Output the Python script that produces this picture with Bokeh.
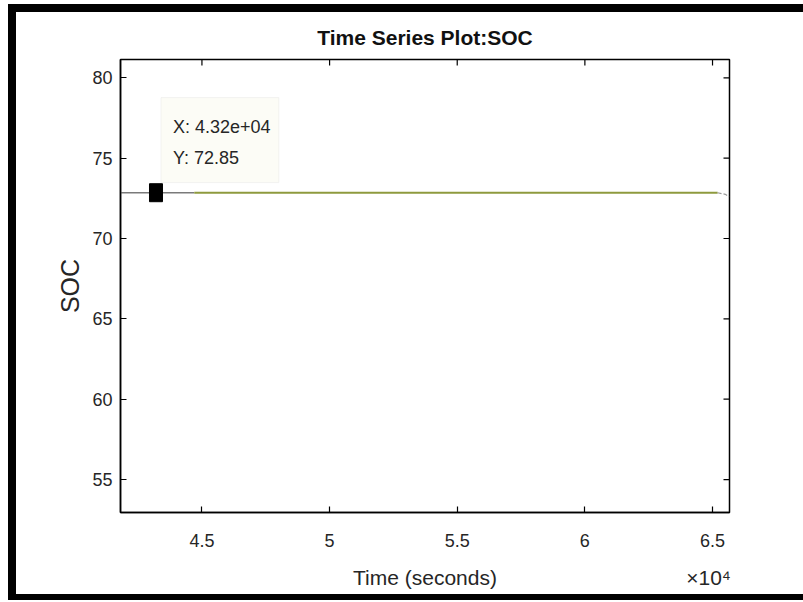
import math
from bokeh.plotting import figure
from bokeh.models import LinearAxis, FixedTicker, Range1d, BoxAnnotation, Label
from bokeh.embed import file_html
from bokeh.resources import INLINE

# ---- data ----
time_s = [41810, 43200, 44700, 65200, 65500, 65650]
soc = [72.85, 72.85, 72.85, 72.85, 72.75, 72.6]
tip_time = [43200]
tip_soc = [72.85]
x_ticks = [45000, 50000, 55000, 60000, 65000]
x_tick_labels = ["4.5", "5", "5.5", "6", "6.5"]
y_ticks = [55, 60, 65, 70, 75, 80]
x_lim = [41810, 65665]
y_lim = [52.95, 81.14]
x_title = "Time (seconds)"
x_exponent = "×10⁴"

FONT = "Liberation Sans"
TXT = "#262626"
W, H = 787, 582

p = figure(width=W, height=H, output_backend="svg", toolbar_location=None,
           x_range=Range1d(*x_lim), y_range=Range1d(*y_lim),
           min_border_left=104, min_border_right=74, min_border_top=47, min_border_bottom=82,
           title="Time Series Plot:SOC")
# thick black picture frame on the left, top and bottom edges (drawn as shadows,
# so they take no room from the canvas)
p.styles = {"margin-left": "16px", "margin-top": "12px", "vertical-align": "top",
            "box-shadow": "-8px -8px 0 0 black, 0 -8px 0 0 black, "
                          "-8px 6px 0 0 black, 0 6px 0 0 black"}
p.background_fill_color = "white"
p.border_fill_color = "white"
p.outline_line_color = "black"
p.outline_line_width = 1.5
p.xgrid.visible = False
p.ygrid.visible = False

p.title.align = "center"
p.title.text_font = FONT
p.title.text_font_size = "21px"
p.title.text_font_style = "bold"
p.title.text_color = "#111111"
p.title.standoff = 21

def style_axis(ax):
    ax.axis_line_color = "black"
    ax.axis_line_width = 1.5
    ax.major_tick_line_color = "black"
    ax.major_tick_line_width = 1.2
    ax.major_tick_in = 6
    ax.major_tick_out = 0
    ax.minor_tick_line_color = None
    ax.major_label_text_font = FONT
    ax.major_label_text_font_size = "18px"
    ax.major_label_text_color = TXT

xa = p.xaxis[0]
xa.ticker = FixedTicker(ticks=x_ticks)
xa.major_label_overrides = dict(zip(x_ticks, x_tick_labels))
style_axis(xa)
xa.major_label_standoff = 21

# second row under the x axis: axis title (centred) and the x10^4 exponent (right)
x_mid = sum(x_lim) / 2
x_exp_pos = 64843
xa2 = LinearAxis(ticker=FixedTicker(ticks=[x_mid, x_exp_pos]))
xa2.major_label_overrides = {x_mid: x_title, x_exp_pos: x_exponent}
xa2.axis_line_color = None
xa2.major_tick_line_color = None
xa2.minor_tick_line_color = None
xa2.major_tick_in = 0
xa2.major_tick_out = 0
xa2.major_label_standoff = 16
xa2.major_label_text_font = FONT
xa2.major_label_text_font_size = "21px"
xa2.major_label_text_color = TXT
p.add_layout(xa2, "below")

ya = p.yaxis[0]
ya.ticker = FixedTicker(ticks=y_ticks)
style_axis(ya)
ya.major_label_standoff = 8
ya.axis_label = "SOC"
ya.axis_label_text_font = FONT
ya.axis_label_text_font_size = "25px"
ya.axis_label_text_font_style = "normal"
ya.axis_label_text_color = TXT
ya.axis_label_standoff = 5

# box ticks on the top and right edges (MATLAB "box on"), pointing inwards
p.ray(x=x_ticks, y=[y_lim[1]] * len(x_ticks), length=6, length_units="screen",
      angle=-math.pi / 2, line_color="black", line_width=1.2)
p.ray(x=[x_lim[1]] * len(y_ticks), y=y_ticks, length=6, length_units="screen",
      angle=math.pi, line_color="black", line_width=1.2)

# the series
p.line(time_s[0:3], soc[0:3], line_color="#7a7a7a", line_width=1.5)
p.line(time_s[2:4], soc[2:4], line_color="#8e9a3e", line_width=2)
p.line(time_s[3:6], soc[3:6], line_color="#9a9a9a", line_width=1.2, line_dash="4 2")

# data tip
p.add_layout(BoxAnnotation(left=43395, right=48014, bottom=73.48, top=78.77,
                           fill_color="#fcfcf6", fill_alpha=1.0,
                           line_color="#dcdcdc", line_width=1))
p.rect(tip_time, tip_soc, width=13, height=18, width_units="screen", height_units="screen",
       fill_color="black", line_color="black")
p.add_layout(Label(x=43865, y=76.91, text=f"X: {tip_time[0]/1e4:.2f}e+04",
                   text_font=FONT, text_font_size="18px", text_color=TXT,
                   text_baseline="middle"))
p.add_layout(Label(x=43865, y=75.04, text=f"Y: {tip_soc[0]:.2f}",
                   text_font=FONT, text_font_size="18px", text_color=TXT,
                   text_baseline="middle"))

open("out.html", "w").write(file_html(p, INLINE))
